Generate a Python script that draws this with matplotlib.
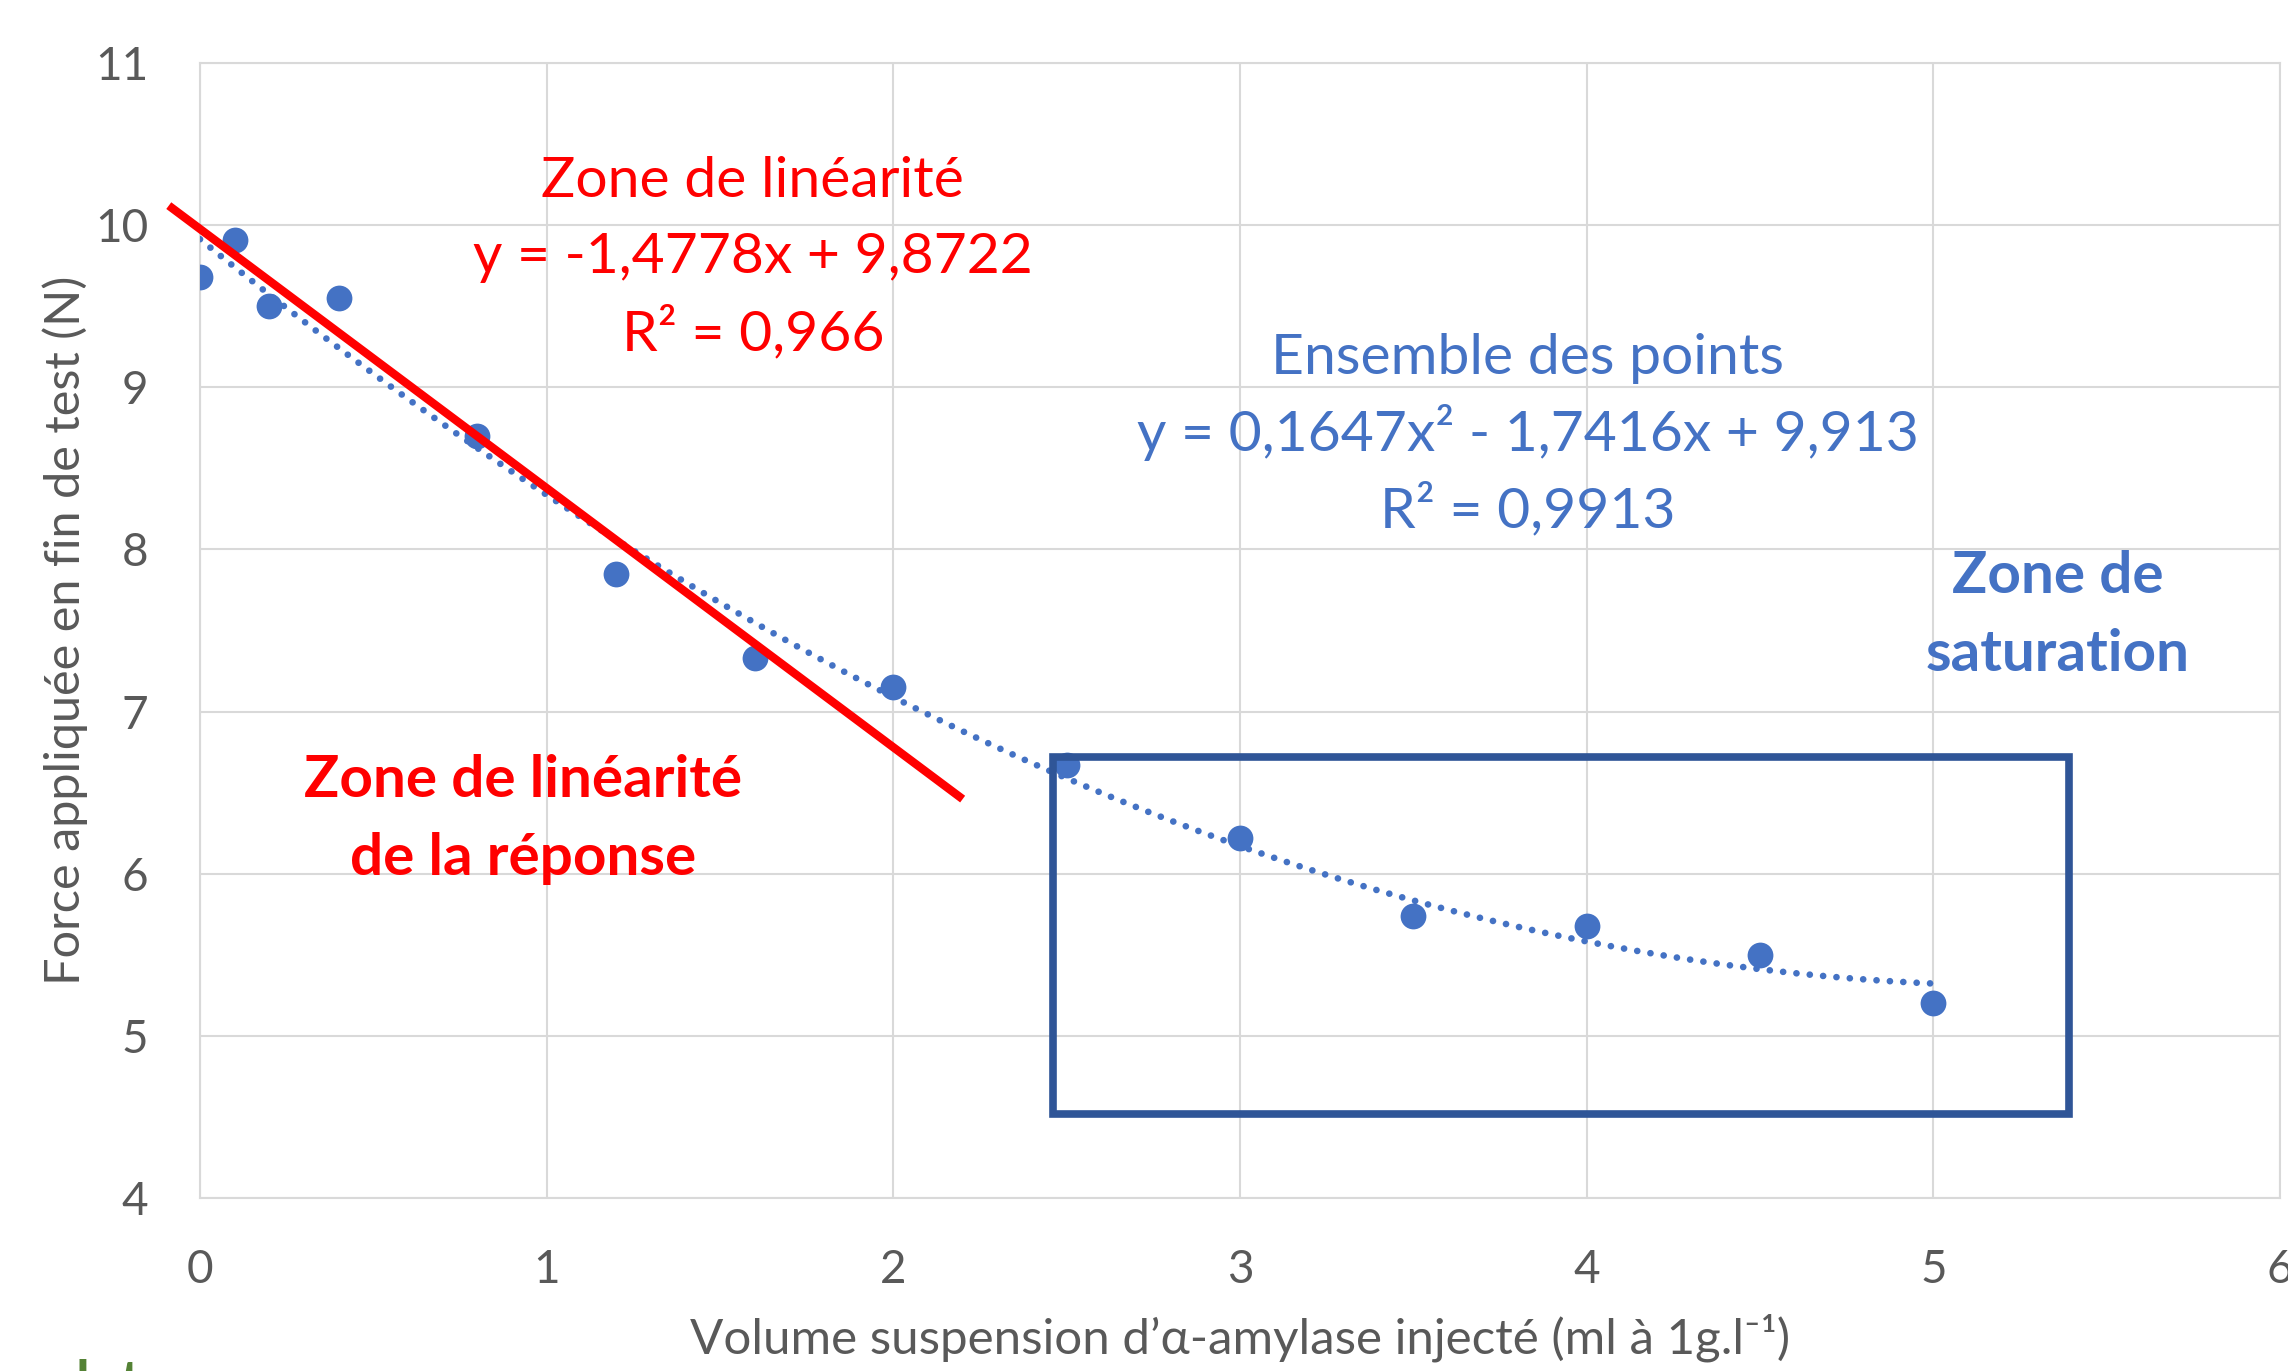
import numpy as np
import matplotlib.pyplot as plt
from matplotlib.patches import Rectangle

plt.rcParams['font.family'] = ['Lato', 'DejaVu Sans']

# Données
volume = [0, 0.1, 0.2, 0.4, 0.8, 1.2, 1.6, 2, 2.5, 3, 3.5, 4, 4.5, 5]
force = [9.68, 9.91, 9.50, 9.55, 8.70, 7.85, 7.33, 7.15, 6.67, 6.22, 5.74, 5.68, 5.50, 5.20]

# Courbe de tendance polynomiale (équation affichée par Excel)
poly_coefs = [0.1647, -1.7416, 9.913]

# Droite rouge tracée sur la zone linéaire (extrémités)
lin_line_x = [-0.09, 2.2]
lin_line_y = [10.12, 6.46]

# Cadre "zone de saturation"
sat_box_x = [2.46, 5.39]
sat_box_y = [4.52, 6.72]

x_ticks = [0, 1, 2, 3, 4, 5, 6]
y_ticks = [4, 5, 6, 7, 8, 9, 10, 11]

blue = '#4472C4'
dark_blue = '#2F5597'
red = '#FF0000'
gray_txt = '#595959'
grid_col = '#D9D9D9'

fig = plt.figure(figsize=(22.88, 13.71), dpi=100)
ax = fig.add_axes([0.0874, 0.1262, 0.9091, 0.8279])

ax.set_xlim(0, 6)
ax.set_ylim(4, 11)
ax.set_xticks(x_ticks)
ax.set_yticks(y_ticks)
ax.grid(True, color=grid_col, lw=1.5)
ax.set_axisbelow(True)
for sp in ax.spines.values():
    sp.set_color(grid_col)
    sp.set_linewidth(1.5)
ax.tick_params(length=0, labelsize=33, colors=gray_txt, pad=37)

# points
ax.scatter(volume, force, s=345, color=blue, linewidths=0, zorder=3)

# tendance polynomiale en pointillés
xs = np.linspace(min(volume), max(volume), 300)
ax.plot(xs, np.polyval(poly_coefs, xs), color=blue, lw=4.8,
        linestyle=(0, (0.01, 2.0)), dash_capstyle='round', zorder=4)

# droite rouge
ax.plot(lin_line_x, lin_line_y, color=red, lw=6, solid_capstyle='butt',
        zorder=5, clip_on=False)

# cadre saturation
ax.add_patch(Rectangle((sat_box_x[0], sat_box_y[0]),
                       sat_box_x[1] - sat_box_x[0], sat_box_y[1] - sat_box_y[0],
                       fill=False, edgecolor=dark_blue, lw=5.5, zorder=5))

# textes
fs = 41
fsb = 42
ax.text(1.595, 10.175, 'Zone de linéarité', color=red, fontsize=fs, ha='center', va='baseline')
ax.text(1.595, 9.702, 'y = -1,4778x + 9,8722', color=red, fontsize=fs, ha='center', va='baseline')
ax.text(1.595, 9.228, 'R² = 0,966', color=red, fontsize=fs, ha='center', va='baseline')

ax.text(3.83, 9.083, 'Ensemble des points', color=blue, fontsize=fs, ha='center', va='baseline')
ax.text(3.83, 8.605, 'y = 0,1647x² - 1,7416x + 9,913', color=blue, fontsize=fs, ha='center', va='baseline')
ax.text(3.83, 8.136, 'R² = 0,9913', color=blue, fontsize=fs, ha='center', va='baseline')

ax.text(5.358, 7.730, 'Zone de', color=blue, fontsize=fsb, weight='bold', ha='center', va='baseline')
ax.text(5.358, 7.253, 'saturation', color=blue, fontsize=fsb, weight='bold', ha='center', va='baseline')

ax.text(0.933, 6.471, 'Zone de linéarité', color=red, fontsize=fsb, weight='bold', ha='center', va='baseline')
ax.text(0.933, 5.994, 'de la réponse', color=red, fontsize=fsb, weight='bold', ha='center', va='baseline')

# titres des axes
ax.set_xlabel('Volume suspension d’α-amylase injecté (ml à 1g.l⁻¹)', fontsize=35.5, color=gray_txt)
ax.xaxis.set_label_coords(0.5, -0.1374)
ax.xaxis.label.set_va('baseline')
ax.set_ylabel('Force appliquée en fin de test (N)', fontsize=35, color=gray_txt)
ax.yaxis.set_label_coords(-0.0577, 0.5)
ax.yaxis.label.set_va('baseline')

# morceau de logo coupé en bas à gauche
fig.text(0.0328, -0.021, 'lnt', color='#548235', fontsize=40, weight='bold', va='baseline')

fig.savefig('out.png', dpi=100)
